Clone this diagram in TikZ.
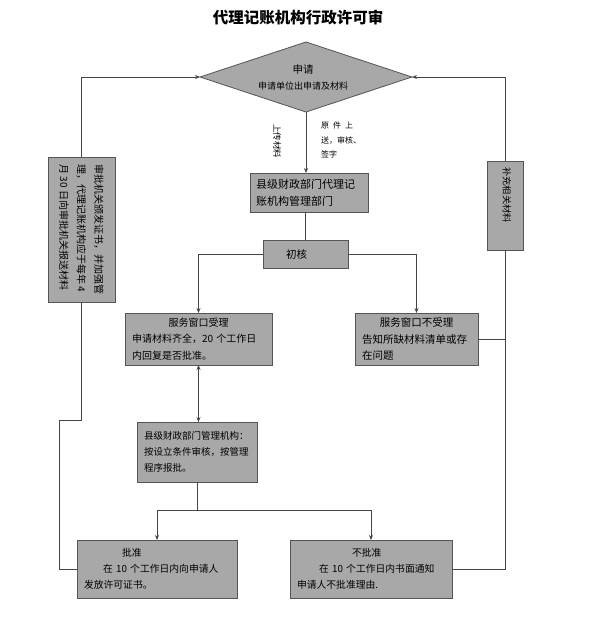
\documentclass[tikz,border=0pt]{standalone}
\usepackage{fontspec}
\setmainfont{Noto Sans CJK SC}
\usetikzlibrary{shapes.geometric,arrows.meta}
\definecolor{boxfill}{RGB}{168,168,168}
\definecolor{boxline}{RGB}{85,85,85}
\definecolor{connc}{RGB}{70,70,70}
\begin{document}
\begin{tikzpicture}[x=1pt,y=-1pt,
  box/.style={draw=boxline, fill=boxfill, line width=0.8pt, inner sep=0pt, outer sep=0pt},
  tbox/.style={box, align=left, inner xsep=7pt},
  dia/.style={diamond, draw=boxline, fill=boxfill, line width=0.8pt, inner sep=0pt, outer sep=0pt},
  conn/.style={draw=connc, line width=0.7pt},
  arr/.style={conn, -{Stealth[length=5pt,width=4pt]}},
  darr/.style={conn, {Stealth[length=5pt,width=4pt]}-{Stealth[length=5pt,width=4pt]}},
  titlestyle/.style={font=\fontsize{15.5}{18}\selectfont\bfseries, inner sep=0pt}
]
\fill[white] (0,0) rectangle (590,630);
\useasboundingbox (0,0) rectangle (590,630);

\node[titlestyle] (title) at (298,18) {代理记账机构行政许可审};

% diamond
\node[dia, minimum width=212pt, minimum height=70pt] (dia) at (306,77) {};
\node[font=\fontsize{10.5}{12}\selectfont, inner sep=0pt] (diat1) at (303,69) {申请};
\node[font=\fontsize{9}{11}\selectfont, inner sep=0pt] (diat2) at (303,86) {申请单位出申请及材料};

% labels on the first connector
\node[rotate=-90, font=\fontsize{8.5}{10}\selectfont, inner sep=0pt] (lab1) at (277,141) {上传材料};
\node[anchor=west, align=left, font=\fontsize{8}{14.5}\selectfont, inner sep=0pt] (lab2) at (321,140) {原\hspace{4pt}件\hspace{4pt}上\\送，审核、\\签字};

% boxes
\node[tbox, minimum width=118pt, minimum height=39pt, text width=106pt, inner xsep=6pt,
      font=\fontsize{11}{17}\selectfont] (gov) at (309,192.5) {县级财政部门代理记\\账机构管理部门};

\node[box, minimum width=85pt, minimum height=28pt, font=\fontsize{10.5}{12}\selectfont] (chk) at (305.5,254) {初核\hspace*{18pt}};

\node[tbox, minimum width=147pt, minimum height=52pt, text width=133pt,
      font=\fontsize{10}{16.5}\selectfont] (acc) at (198.5,339)
      {\hfill 服务窗口受理\hfill\null\\申请材料齐全，20 个工作日\\内回复是否批准。};

\node[tbox, minimum width=123pt, minimum height=52pt, text width=109pt,
      font=\fontsize{10.5}{16.5}\selectfont] (rej) at (416.5,339)
      {\hfill 服务窗口不受理\hfill\null\\告知所缺材料清单或存\\在问题};

\node[tbox, minimum width=120pt, minimum height=60pt, text width=106pt,
      font=\fontsize{9.5}{16}\selectfont] (rev) at (197,452)
      {县级财政部门管理机构：\\按设立条件审核，按管理\\程序报批。};

\node[tbox, minimum width=160pt, minimum height=58pt, text width=146pt,
      font=\fontsize{9.8}{16}\selectfont] (app) at (157,569)
      {\hspace*{38pt}批准\\\hspace*{19pt}在 10 个工作日内向申请人\\发放许可证书。};

\node[tbox, minimum width=162pt, minimum height=58pt, text width=148pt,
      font=\fontsize{9.8}{16}\selectfont] (den) at (371,569)
      {\hspace*{55pt}不批准\\\hspace*{22pt}在 10 个工作日内书面通知\\申请人不批准理由.};

% side boxes with vertical text
\node[box, minimum width=67pt, minimum height=145pt] (lbox) at (81.5,229.5) {};
\node[rotate=-90, align=left, font=\fontsize{10}{17.5}\selectfont, inner sep=0pt] (ltxt) at (lbox.center)
      {审批机关颁发证书，并加强管\\理，代理记账机构应于每年 4\\月 30 日向审批机关报送材料};

\node[box, minimum width=36pt, minimum height=89pt] (rbox) at (505,205.5) {};
\node[rotate=-90, font=\fontsize{9.2}{11}\selectfont, inner sep=0pt] (rtxt) at (507,195) {补充相关材料};

% connectors
\draw[arr] (dia.south) -- (dia.south |- gov.north);
\draw[conn] (chk.north |- gov.south) -- (chk.north);
\draw[arr] (chk.west) -| (acc.north);
\draw[arr] (chk.east) -| (rej.north);
\draw[darr] (acc.south) -- (acc.south |- rev.north);
\coordinate (split) at (197,510);
\draw[conn] (rev.south) -- (split);
\draw[arr] (split) -| (app.north);
\draw[arr] (split) -| (den.north);

% left feedback loop
\coordinate (lj1) at (59,420);
\coordinate (lj2) at (81.5,420);
\draw[conn] (app.west) -| (lj1) -- (lj2) -- (lbox.south);
\draw[arr] (lbox.north) |- (dia.west);

% right feedback loop
\draw[conn] (den.east) -| (rbox.south);
\draw[conn] (rej.east) -- (rej.east -| rbox.south);
\draw[arr] (rbox.north) |- (dia.east);
\end{tikzpicture}
\end{document}
